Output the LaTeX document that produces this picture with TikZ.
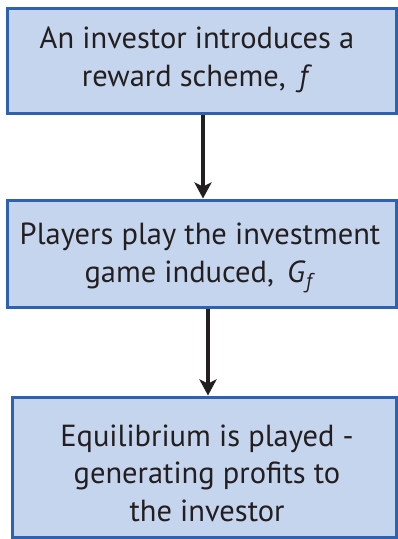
\documentclass[tikz,border=0pt]{standalone}
\usepackage{fontspec}
\setmainfont{PT Sans}
\usetikzlibrary{arrows.meta}
\definecolor{boxfill}{RGB}{197,213,237}
\definecolor{boxline}{RGB}{46,98,176}
\definecolor{arrowcol}{RGB}{35,31,32}
\tikzset{
  box/.style={draw=boxline, fill=boxfill, line width=3pt, rectangle, inner sep=0pt},
  txt/.style={align=center, font=\fontsize{30.5}{37.5}\selectfont, text=arrowcol, inner sep=0pt},
  arr/.style={draw=arrowcol, line width=4pt, -{Stealth[length=16pt,width=17pt,inset=4pt]}}
}
\begin{document}
\begin{tikzpicture}[x=1pt,y=-1pt]
\useasboundingbox (0,0) rectangle (397,539);
\node[box, minimum width=389pt, minimum height=105pt] (b1) at (201.5,60.5) {};
\node[box, minimum width=389pt, minimum height=107pt] (b2) at (201.5,253.5) {};
\node[box, minimum width=384pt, minimum height=140pt] (b3) at (204,467) {};
\node[txt] (t1) at (197,60) {An investor introduces a\\ reward scheme, \,\textit{f}};
\node[txt] (t2) at (200,258) {Players play the investment\\ game induced, \,\textit{G}\textsubscript{\textit{f}}};
\node[txt] (t3) at (207,473) {Equilibrium is played -\\ generating profits to\\ the investor};
\draw[arr] ([xshift=1.5pt]b1.south) -- ([xshift=1.5pt]b2.north);
\draw[arr] ([xshift=6.5pt]b2.south) -- ([xshift=4pt]b3.north);
\end{tikzpicture}
\end{document}
